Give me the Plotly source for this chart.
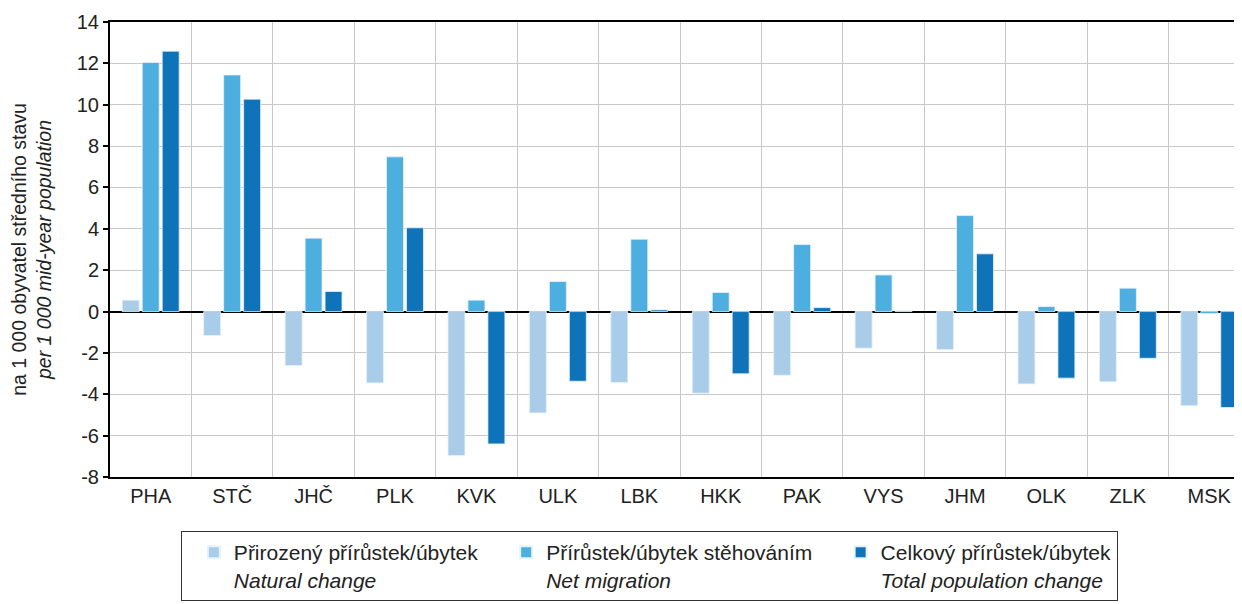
import plotly.graph_objects as go

regions = ["PHA", "STČ", "JHČ", "PLK", "KVK", "ULK", "LBK", "HKK", "PAK", "VYS", "JHM", "OLK", "ZLK", "MSK"]
natural = [0.55, -1.16, -2.61, -3.45, -6.96, -4.90, -3.43, -3.95, -3.08, -1.77, -1.84, -3.50, -3.40, -4.55]
migration = [12.04, 11.44, 3.55, 7.48, 0.55, 1.45, 3.50, 0.92, 3.24, 1.77, 4.64, 0.24, 1.13, -0.10]
total = [12.59, 10.27, 0.97, 4.05, -6.40, -3.37, 0.08, -3.01, 0.19, 0.03, 2.79, -3.22, -2.26, -4.64]

y_ticks = [-8, -6, -4, -2, 0, 2, 4, 6, 8, 10, 12, 14]
y_ticklabels = [str(v) for v in y_ticks]  # plain hyphen minus, as in the source

pad = "\u00a0" * 4  # a bit of extra room between legend entries
names = [
    "Přirozený přírůstek/úbytek" + pad + "<br><i>Natural change</i>",
    "Přírůstek/úbytek stěhováním" + pad + "<br><i>Net migration</i>",
    "Celkový přírůstek/úbytek<br><i>Total population change</i>",
]
colors = ["#A9CDE9", "#4DAEE0", "#0F73BA"]

fig = go.Figure()
for vals, name, col in zip([natural, migration, total], names, colors):
    fig.add_trace(go.Bar(
        x=regions, y=vals, name=name,
        marker=dict(color=col, line=dict(color="#E8F2FA", width=0.8)),
    ))

# page body has an 8px margin, so offsets below are 8px smaller than in the picture
font = "Liberation Sans, Arial, sans-serif"
fig.update_layout(
    width=1242, height=604,
    margin=dict(l=102, r=0, t=14, b=135, autoexpand=False),
    paper_bgcolor="white", plot_bgcolor="white",
    font=dict(family=font, size=20, color="#222222"),
    barmode="group", bargap=0.264, bargroupgap=0.15,
    showlegend=True,
    legend=dict(
        orientation="h", xref="container", yref="container",
        x=0.139, y=0.134, xanchor="left", yanchor="top",
        bordercolor="#333333", borderwidth=1,
        valign="top", font=dict(size=21),
        itemsizing="constant",
        title=dict(text="\u00a0", side="left", font=dict(size=8)),
    ),
)
fig.update_xaxes(
    type="category", range=[-0.5, 13.5],
    tickson="boundaries", ticks="", automargin=False,
    showgrid=True, gridcolor="#C8C8C8", gridwidth=1,
    showline=True, linecolor="black", linewidth=2, mirror=True,
    tickfont=dict(size=20),
)
fig.update_yaxes(
    range=[-8, 14], tickvals=y_ticks, ticktext=y_ticklabels, automargin=False,
    showgrid=True, gridcolor="#C8C8C8", gridwidth=1,
    showline=True, linecolor="black", linewidth=2,
    ticks="outside", ticklen=5, tickcolor="black", tickwidth=1.5,
    zeroline=True, zerolinecolor="black", zerolinewidth=1.5,
    tickfont=dict(size=20),
    title=dict(text="na 1 000 obyvatel středního stavu<br><i>per 1 000 mid-year population</i>",
               font=dict(size=19.5), standoff=20),
)

fig.write_html("out.html")
